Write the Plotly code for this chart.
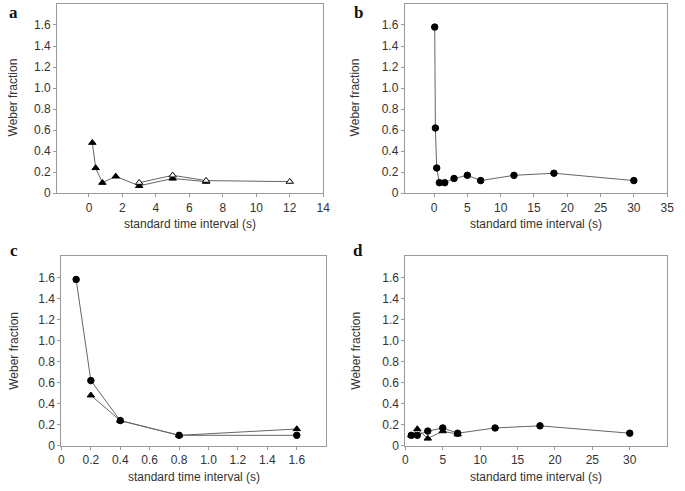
import plotly.graph_objects as go

# ---- Data ----
# panel a
a_filled_x = [0.2, 0.4, 0.8, 1.6, 3, 5, 7]
a_filled_y = [0.48, 0.24, 0.10, 0.16, 0.07, 0.14, 0.11]
a_open_x = [3, 5, 7, 12]
a_open_y = [0.10, 0.17, 0.12, 0.11]
# panel b
b_x = [0.1, 0.2, 0.4, 0.8, 1.6, 3, 5, 7, 12, 18, 30]
b_y = [1.58, 0.62, 0.24, 0.10, 0.10, 0.14, 0.17, 0.12, 0.17, 0.19, 0.12]
# panel c
c_circ_x = [0.1, 0.2, 0.4, 0.8, 1.6]
c_circ_y = [1.58, 0.62, 0.24, 0.10, 0.10]
c_tri_x = [0.2, 0.4, 0.8, 1.6]
c_tri_y = [0.48, 0.24, 0.10, 0.16]
# panel d
d_circ_x = [0.8, 1.6, 3, 5, 7, 12, 18, 30]
d_circ_y = [0.10, 0.10, 0.14, 0.17, 0.12, 0.17, 0.19, 0.12]
d_tri_x = [0.8, 1.6, 3, 5, 7]
d_tri_y = [0.10, 0.16, 0.07, 0.14, 0.11]

y_tickvals = [0, 0.2, 0.4, 0.6, 0.8, 1.0, 1.2, 1.4, 1.6]
y_ticktext = ["0", "0.2", "0.4", "0.6", "0.8", "1.0", "1.2", "1.4", "1.6"]
a_xticks = [0, 2, 4, 6, 8, 10, 12, 14]
b_xticks = [0, 5, 10, 15, 20, 25, 30, 35]
c_xtickvals = [0, 0.2, 0.4, 0.6, 0.8, 1.0, 1.2, 1.4, 1.6]
c_xticktext = ["0", "0.2", "0.4", "0.6", "0.8", "1.0", "1.2", "1.4", "1.6"]
d_xticks = [0, 5, 10, 15, 20, 25, 30]

panel_labels = ["a", "b", "c", "d"]
x_title = "standard time interval (s)"
y_title = "Weber fraction"

W, H = 685, 491
LINE = "#666666"
FRAME = "#9a9a9a"
TXT = "#333333"

def fx(px):
    return px / W

def fy(py):
    return 1 - py / H

fig = go.Figure()

def line_trace(x, y, xa, ya, symbol, fill="black"):
    return go.Scatter(
        x=x, y=y, xaxis=xa, yaxis=ya, mode="lines+markers",
        line=dict(color=LINE, width=1),
        marker=dict(symbol=symbol, size=6.5, color=fill,
                    line=dict(color="black", width=1)),
        showlegend=False, hoverinfo="skip", cliponaxis=False,
    )

# a
fig.add_trace(line_trace(a_filled_x, a_filled_y, "x", "y", "triangle-up"))
fig.add_trace(line_trace(a_open_x, a_open_y, "x", "y", "triangle-up", fill="white"))
# b
fig.add_trace(line_trace(b_x, b_y, "x2", "y2", "circle"))
# c
fig.add_trace(line_trace(c_tri_x, c_tri_y, "x3", "y3", "triangle-up"))
fig.add_trace(line_trace(c_circ_x, c_circ_y, "x3", "y3", "circle"))
# d
fig.add_trace(line_trace(d_tri_x, d_tri_y, "x4", "y4", "triangle-up"))
fig.add_trace(line_trace(d_circ_x, d_circ_y, "x4", "y4", "circle"))

axis_common = dict(
    showline=True, linecolor=FRAME, linewidth=1, mirror=True,
    ticks="outside", ticklen=3, tickcolor=FRAME, tickwidth=1,
    showgrid=False, zeroline=False, ticklabeloverflow="allow",
    tickfont=dict(family="Liberation Sans, Arial, sans-serif", size=12, color=TXT),
)

boxes = {
    "": dict(x=(55, 325), y=(4, 196)),
    "2": dict(x=(407.7, 674), y=(4, 196)),
    "3": dict(x=(59.3, 328), y=(260, 452.3)),
    "4": dict(x=(408.3, 674), y=(260, 452.3)),
}
xranges = {"": [-1.9, 14], "2": [-4.4, 35], "3": [0, 1.8], "4": [0, 35]}
xtv = {"": (a_xticks, [str(v) for v in a_xticks]),
       "2": (b_xticks, [str(v) for v in b_xticks]),
       "3": (c_xtickvals, c_xticktext),
       "4": (d_xticks, [str(v) for v in d_xticks])}

layout = dict(
    width=W, height=H, margin=dict(l=0, r=0, t=0, b=0),
    paper_bgcolor="white", plot_bgcolor="white",
    font=dict(family="Liberation Sans, Arial, sans-serif", size=12, color=TXT),
)
for k, bx in boxes.items():
    xk = "xaxis" + k
    yk = "yaxis" + k
    layout[xk] = dict(axis_common, domain=[fx(bx["x"][0]), fx(bx["x"][1])],
                      range=xranges[k], tickvals=xtv[k][0], ticktext=xtv[k][1],
                      anchor="y" + k)
    layout[yk] = dict(axis_common, domain=[fy(bx["y"][1]), fy(bx["y"][0])],
                      range=[0, 1.8], tickvals=y_tickvals, ticktext=y_ticktext,
                      anchor="x" + k)
fig.update_layout(**layout)

annotations = []
label_pos = [(11, 13), (361, 13), (11, 254), (360, 254)]
for lab, (px, py) in zip(panel_labels, label_pos):
    annotations.append(dict(text="<b>" + lab + "</b>", x=fx(px), y=fy(py),
                            xref="paper", yref="paper", showarrow=False,
                            xanchor="center", yanchor="middle",
                            font=dict(family="Liberation Serif, Times New Roman, serif",
                                      size=17, color="#111")))
xt_pos = [(190, 227), (541, 227), (194, 484), (541, 484)]
for px, py in xt_pos:
    annotations.append(dict(text=x_title, x=fx(px), y=fy(py), xref="paper", yref="paper",
                            showarrow=False, xanchor="center", yanchor="middle",
                            font=dict(size=12, color=TXT)))
yt_pos = [(10, 99), (357, 99), (11, 356), (358, 356)]
for px, py in yt_pos:
    annotations.append(dict(text=y_title, x=fx(px), y=fy(py), xref="paper", yref="paper",
                            showarrow=False, xanchor="center", yanchor="middle",
                            textangle=-90, font=dict(size=12, color=TXT)))
fig.update_layout(annotations=annotations)

# remove the browser's default 8px body margin so the figure fills the window
fig.write_html("out.html",
               config={"displayModeBar": False},
               post_script="document.body.style.margin='0';document.body.style.overflow='hidden';")
